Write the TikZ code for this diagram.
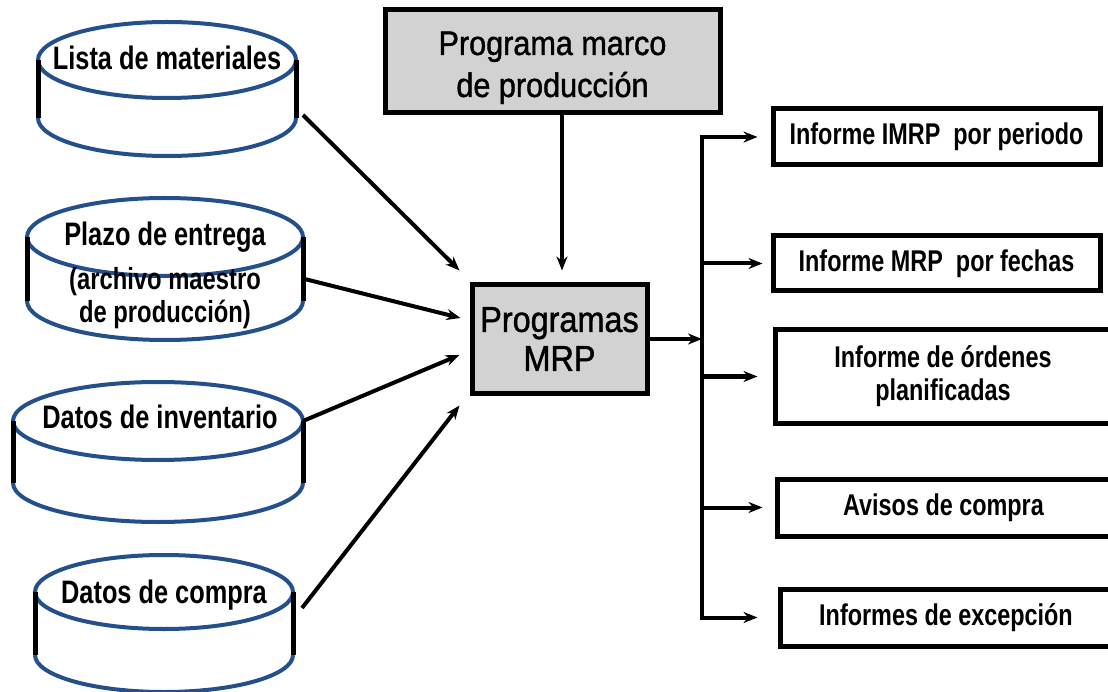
\documentclass[tikz,border=0pt]{standalone}
\usepackage{fontspec}
\setmainfont{Liberation Sans}[FakeStretch=0.78]
\newfontfamily\boxfont{Liberation Sans}[FakeStretch=0.9, FakeBold=1.2]
\usepackage{tikz}
\usetikzlibrary{arrows.meta}
\usetikzlibrary{positioning, calc}

\definecolor{rimblue}{RGB}{35,80,140}
\definecolor{boxgray}{RGB}{210,210,210}

\tikzset{
  cylrim/.style={draw=rimblue, line width=4pt},
  cylside/.style={draw=black, line width=5pt},
  cyltext/.style={font=\bfseries\fontsize{32.5}{36}\selectfont, inner sep=0pt},
  graybox/.style={rectangle, draw, line width=5pt, fill=boxgray, inner sep=0pt, align=center},
  outbox/.style={rectangle, draw, line width=5pt, inner sep=0pt, align=center,
    font=\bfseries\fontsize{30}{33}\selectfont},
  arr/.style={line width=4pt, -{Stealth[length=14pt,width=11pt]}},
}

% cylinder: name, cx, cy, rx, ry, height
\newcommand\drawcyl[6]{%
  \draw[cylrim] (#2,#3) ellipse [x radius=#4, y radius=#5];
  \draw[cylrim] (#2-#4,#3+#6) arc [start angle=180, end angle=0, x radius=#4, y radius=#5];
  \draw[cylside] (#2-#4,#3) -- (#2-#4,#3+#6);
  \draw[cylside] (#2+#4,#3) coordinate (#1-ne) -- (#2+#4,#3+#6) coordinate (#1-se);
}

\begin{document}
\begin{tikzpicture}[x=1pt, y=-1pt]
    \useasboundingbox (0,0) rectangle (1108,692);

    % data files
    \drawcyl{lista}{167}{60}{129}{38}{58}
    \drawcyl{plazo}{165}{237}{138}{39}{64}
    \drawcyl{inv}{158}{421}{145}{39}{62}
    \drawcyl{compra}{164}{592}{129}{37}{63}

    \node[cyltext] (listatxt) at (167,58) {Lista de materiales};
    \node[cyltext] (plazotxt) at (165,237) {Plazo de entrega};
    \node[cyltext, align=center, font=\bfseries\fontsize{30.5}{33}\selectfont]
        (archtxt) at (165,298) {(archivo maestro\\de producción)};
    \node[cyltext] (invtxt) at (160,417) {Datos de inventario};
    \node[cyltext] (compratxt) at (164,595) {Datos de compra};

    % programs
    \node[graybox, minimum width=335, minimum height=103,
        font=\boxfont\fontsize{34}{42}\selectfont] (marco) at (552.5,61.5)
        {\rule{0pt}{36pt}Programa marco\\de producción};
    \node[graybox, minimum width=175, minimum height=108,
        font=\boxfont\fontsize{36}{39}\selectfont] (mrp) at (559.5,339)
        {Programas\\MRP};

    % reports
    \node[outbox, minimum width=327, minimum height=56] (o1) at (936.5,137)
        {Informe IMRP\ \ por periodo};
    \node[outbox, minimum width=327, minimum height=55] (o2) at (936.5,263.5)
        {Informe MRP\ \ por fechas};
    \node[outbox, minimum width=336, minimum height=93] (o3) at (943,376.5)
        {Informe de órdenes\\planificadas};
    \node[outbox, minimum width=333, minimum height=57] (o4) at (943.5,507.5)
        {Avisos de compra};
    \node[outbox, minimum width=332, minimum height=57] (o5) at (946,617.5)
        {Informes de excepción};

    \coordinate (bus) at (702,0);

    % inputs
    \draw[arr] (marco.south -| 562,0) -- ([yshift=12pt]mrp.north -| 562,0);
    \draw[arr] ([shift={(7pt,3pt)}]lista-se) -- ([shift={(-10pt,12pt)}]mrp.north west);
    \draw[arr] ($(plazo-ne)!0.65!(plazo-se)$) -- ([shift={(-9pt,21pt)}]mrp.west);
    \draw[arr] (inv-ne) -- ([shift={(-10pt,-16pt)}]mrp.west);
    \draw[arr] ([shift={(9pt,-16pt)}]compra-ne) -- ([shift={(-10pt,-10pt)}]mrp.south west);

    % outputs
    \draw[arr] (mrp.east) -- (mrp.east -| bus);
    \draw[arr] (mrp.east -| bus) -- (o1.west -| bus) -- ([xshift=-13pt]o1.west);
    \draw[arr] (mrp.east -| bus) -- (o5.west -| bus) -- ([xshift=-20pt]o5.west);
    \draw[arr] (o2.west -| bus) -- ([xshift=-8pt]o2.west);
    \draw[arr] (o3.west -| bus) -- ([xshift=-15pt]o3.west);
    \draw[arr] (o4.west -| bus) -- ([xshift=-12pt]o4.west);

\end{tikzpicture}
\end{document}
